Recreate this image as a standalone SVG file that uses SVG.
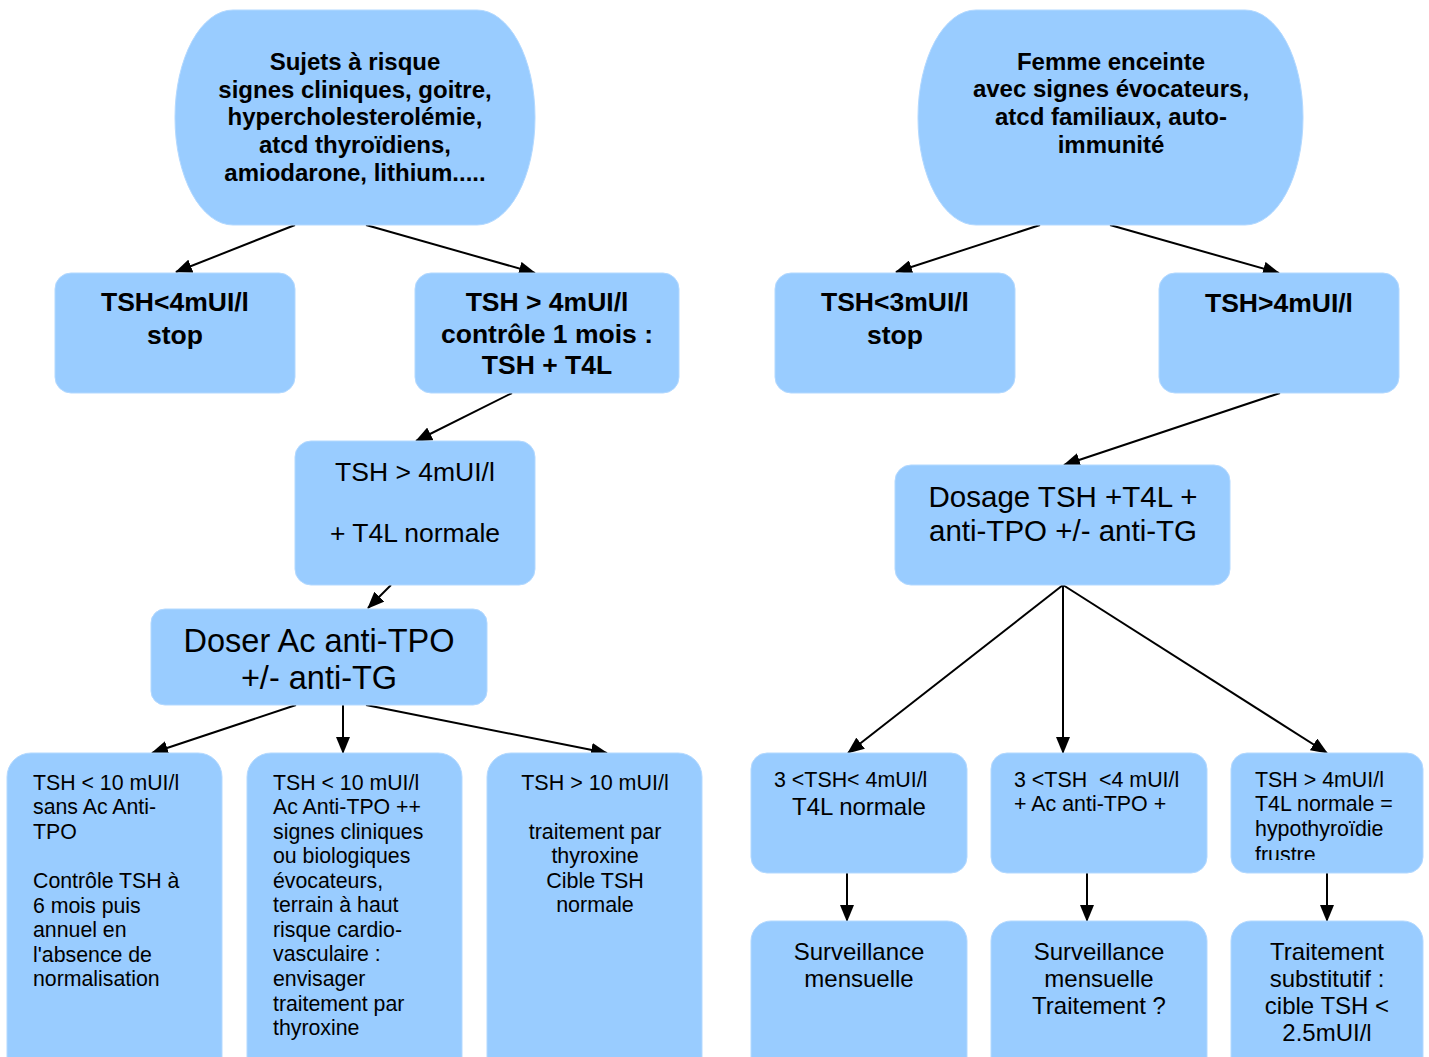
<svg xmlns="http://www.w3.org/2000/svg" width="1429" height="1057" viewBox="0 0 1429 1057">
<style>
.n{fill:#99ccff;stroke:#b3d9ff;stroke-width:1}
.t{font-family:"Liberation Sans",Arial,sans-serif;fill:#000}
.b{font-weight:bold}
.c{text-anchor:middle}
.e{stroke:#000;stroke-width:2;fill:none;marker-end:url(#ah)}
</style>
<defs>
<marker id="ah" markerUnits="userSpaceOnUse" markerWidth="18" markerHeight="14" refX="16" refY="7" orient="auto">
<path d="M0,0 L17,7 L0,14 z" fill="#000"/>
</marker>
<clipPath id="clipF"><rect x="1231" y="753" width="192" height="107"/></clipPath>
</defs>
<rect width="1429" height="1057" fill="#fff"/>
<g id="connectors">
<line class="e" x1="295" y1="225" x2="176" y2="272"/>
<line class="e" x1="366" y1="225" x2="535" y2="273"/>
<line class="e" x1="512" y1="393" x2="416" y2="441"/>
<line class="e" x1="391" y1="585" x2="368" y2="608"/>
<line class="e" x1="296" y1="705" x2="152" y2="753"/>
<line class="e" x1="343" y1="705" x2="343" y2="753"/>
<line class="e" x1="366" y1="705" x2="607" y2="753"/>
<line class="e" x1="1040" y1="225" x2="896" y2="272"/>
<line class="e" x1="1110" y1="225" x2="1279" y2="273"/>
<line class="e" x1="1280" y1="393" x2="1064" y2="465"/>
<line class="e" x1="1063" y1="585" x2="848" y2="753"/>
<line class="e" x1="1063" y1="585" x2="1063" y2="753"/>
<line class="e" x1="1063" y1="585" x2="1327" y2="753"/>
<line class="e" x1="847" y1="873" x2="847" y2="921"/>
<line class="e" x1="1087" y1="873" x2="1087" y2="921"/>
<line class="e" x1="1327" y1="873" x2="1327" y2="921"/>
</g>
<g id="n1">
<rect class="n" x="175" y="10" width="360" height="215" rx="58" ry="107"/>
<text class="t b c" font-size="24"><tspan x="355" y="70">Sujets à risque</tspan><tspan x="355" y="98">signes cliniques, goitre,</tspan><tspan x="355" y="125">hypercholesterolémie,</tspan><tspan x="355" y="153">atcd thyroïdiens,</tspan><tspan x="355" y="181">amiodarone, lithium.....</tspan></text>
</g>
<g id="n2">
<rect class="n" x="55" y="273" width="240" height="120" rx="16"/>
<text class="t b c" font-size="26.5"><tspan x="175" y="311">TSH&lt;4mUI/l</tspan><tspan x="175" y="344">stop</tspan></text>
</g>
<g id="n3">
<rect class="n" x="415" y="273" width="264" height="120" rx="16"/>
<text class="t b c" font-size="26.5"><tspan x="547" y="311">TSH &gt; 4mUI/l</tspan><tspan x="547" y="343">contrôle 1 mois :</tspan><tspan x="547" y="374">TSH + T4L</tspan></text>
</g>
<g id="n4">
<rect class="n" x="295" y="441" width="240" height="144" rx="16"/>
<text class="t c" font-size="26.5"><tspan x="415" y="481">TSH &gt; 4mUI/l</tspan><tspan x="415" y="542">+ T4L normale</tspan></text>
</g>
<g id="n5">
<rect class="n" x="151" y="609" width="336" height="96" rx="14"/>
<text class="t c" font-size="32.5"><tspan x="319" y="652">Doser Ac anti-TPO</tspan><tspan x="319" y="689">+/- anti-TG</tspan></text>
</g>
<g id="n6">
<rect class="n" x="7" y="753" width="215" height="340" rx="24"/>
<text class="t" font-size="21.3"><tspan x="33" y="790">TSH &lt; 10 mUI/l</tspan><tspan x="33" y="814">sans Ac Anti-</tspan><tspan x="33" y="839">TPO</tspan><tspan x="33" y="888">Contrôle TSH à</tspan><tspan x="33" y="913">6 mois puis</tspan><tspan x="33" y="937">annuel en</tspan><tspan x="33" y="962">l'absence de</tspan><tspan x="33" y="986">normalisation</tspan></text>
</g>
<g id="n7">
<rect class="n" x="247" y="753" width="215" height="340" rx="24"/>
<text class="t" font-size="21.3"><tspan x="273" y="790">TSH &lt; 10 mUI/l</tspan><tspan x="273" y="814">Ac Anti-TPO ++</tspan><tspan x="273" y="839">signes cliniques</tspan><tspan x="273" y="863">ou biologiques</tspan><tspan x="273" y="888">évocateurs,</tspan><tspan x="273" y="912">terrain à haut</tspan><tspan x="273" y="937">risque cardio-</tspan><tspan x="273" y="961">vasculaire :</tspan><tspan x="273" y="986">envisager</tspan><tspan x="273" y="1011">traitement par</tspan><tspan x="273" y="1035">thyroxine</tspan></text>
</g>
<g id="n8">
<rect class="n" x="487" y="753" width="215" height="340" rx="24"/>
<text class="t c" font-size="21.5"><tspan x="595" y="790">TSH &gt; 10 mUI/l</tspan><tspan x="595" y="839">traitement par</tspan><tspan x="595" y="863">thyroxine</tspan><tspan x="595" y="888">Cible TSH</tspan><tspan x="595" y="912">normale</tspan></text>
</g>
<g id="n9">
<rect class="n" x="918" y="10" width="385" height="215" rx="58" ry="107"/>
<text class="t b c" font-size="24"><tspan x="1111" y="70">Femme enceinte</tspan><tspan x="1111" y="97">avec signes évocateurs,</tspan><tspan x="1111" y="125">atcd familiaux, auto-</tspan><tspan x="1111" y="153">immunité</tspan></text>
</g>
<g id="n10">
<rect class="n" x="775" y="273" width="240" height="120" rx="16"/>
<text class="t b c" font-size="26.5"><tspan x="895" y="311">TSH&lt;3mUI/l</tspan><tspan x="895" y="344">stop</tspan></text>
</g>
<g id="n11">
<rect class="n" x="1159" y="273" width="240" height="120" rx="16"/>
<text class="t b c" font-size="26.5"><tspan x="1279" y="312">TSH&gt;4mUI/l</tspan></text>
</g>
<g id="n12">
<rect class="n" x="895" y="465" width="335" height="120" rx="16"/>
<text class="t c" font-size="29.5"><tspan x="1063" y="507">Dosage TSH +T4L +</tspan><tspan x="1063" y="541">anti-TPO +/- anti-TG</tspan></text>
</g>
<g id="n13">
<rect class="n" x="751" y="753" width="216" height="120" rx="16"/>
<text class="t" font-size="21.4"><tspan x="774" y="787">3 &lt;TSH&lt; 4mUI/l</tspan></text>
<text class="t" font-size="24"><tspan x="792" y="815">T4L normale</tspan></text>
</g>
<g id="n14">
<rect class="n" x="991" y="753" width="216" height="120" rx="16"/>
<text class="t" font-size="21.4" xml:space="preserve"><tspan x="1014" y="787">3 &lt;TSH  &lt;4 mUI/l</tspan><tspan x="1014" y="811">+ Ac anti-TPO +</tspan></text>
</g>
<g id="n15">
<rect class="n" x="1231" y="753" width="192" height="120" rx="16"/>
<text class="t" font-size="21.4" clip-path="url(#clipF)"><tspan x="1255" y="787">TSH &gt; 4mUI/l</tspan><tspan x="1255" y="811">T4L normale =</tspan><tspan x="1255" y="836">hypothyroïdie</tspan><tspan x="1255" y="862">frustre</tspan></text>
</g>
<g id="n16">
<rect class="n" x="751" y="921" width="216" height="170" rx="20"/>
<text class="t c" font-size="24"><tspan x="859" y="960">Surveillance</tspan><tspan x="859" y="987">mensuelle</tspan></text>
</g>
<g id="n17">
<rect class="n" x="991" y="921" width="216" height="170" rx="20"/>
<text class="t c" font-size="24"><tspan x="1099" y="960">Surveillance</tspan><tspan x="1099" y="987">mensuelle</tspan><tspan x="1099" y="1014">Traitement ?</tspan></text>
</g>
<g id="n18">
<rect class="n" x="1231" y="921" width="192" height="170" rx="20"/>
<text class="t c" font-size="24"><tspan x="1327" y="960">Traitement</tspan><tspan x="1327" y="987">substitutif :</tspan><tspan x="1327" y="1014">cible TSH &lt;</tspan><tspan x="1327" y="1041">2.5mUI/l</tspan></text>
</g>
</svg>
